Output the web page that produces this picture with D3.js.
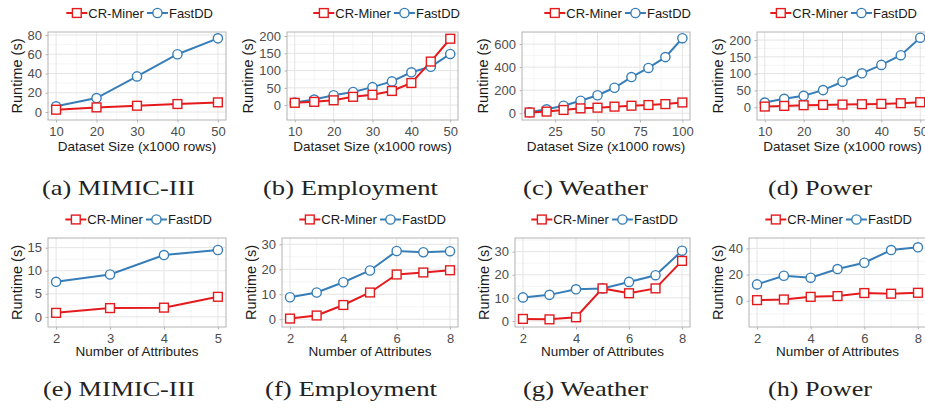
<!DOCTYPE html>
<html>
<head>
<meta charset="utf-8">
<script src="https://cdn.jsdelivr.net/npm/d3@7"></script>
<style>
  body { margin: 0; background: #fff; }
  svg { display: block; }
</style>
</head>
<body>
<svg id="chart" width="925" height="412"></svg>
<script>
// ---- data (runtime in seconds) ----
const seriesNames = ["CR-Miner", "FastDD"];

const mimicSize = [10, 20, 30, 40, 50];
const mimicSizeCR = [2.4, 4.8, 6.5, 8.3, 10];
const mimicSizeFD = [5.9, 14.5, 37, 60, 76.5];

const employSize = [10, 15, 20, 25, 30, 35, 40, 45, 50];
const employSizeCR = [6.7, 9.5, 14, 24, 30, 41, 64, 126, 192];
const employSizeFD = [7.6, 16, 28.6, 38, 52, 68.6, 95, 111, 148];

const weatherSize = [10, 20, 30, 40, 50, 60, 70, 80, 90, 100];
const weatherSizeCR = [6, 14, 28, 42, 48, 57, 65, 71, 79, 93];
const weatherSizeFD = [8, 34, 65, 108, 156, 221, 314, 393, 487, 651];

const powerSize = [10, 15, 20, 25, 30, 35, 40, 45, 50];
const powerSizeCR = [2, 4, 6, 7, 8, 9, 10, 12, 15];
const powerSizeFD = [14, 25, 34, 51, 76, 101, 126, 155, 207];

const mimicAttr = [2, 3, 4, 5];
const mimicAttrCR = [0.87, 1.9, 2.0, 4.35];
const mimicAttrFD = [7.6, 9.2, 13.4, 14.5];

const attrCounts = [2, 3, 4, 5, 6, 7, 8];
const employAttrCR = [0.27, 1.5, 5.7, 10.7, 17.9, 18.7, 19.6];
const employAttrFD = [8.8, 10.7, 14.8, 19.5, 27.3, 26.8, 27.2];
const weatherAttrCR = [0.9, 0.7, 1.6, 14.1, 12, 14.1, 26];
const weatherAttrFD = [10.2, 11.3, 13.7, 14.1, 16.9, 19.8, 30.4];
const powerAttrCR = [0.5, 1, 3, 3.6, 5.9, 5.4, 6.1];
const powerAttrFD = [12.5, 19.1, 17.6, 24.2, 29, 38.7, 40.8];

// ---- tick labels / titles ----
const sizeTicks = [10, 20, 30, 40, 50];
const weatherSizeTicks = [25, 50, 75, 100];
const mimicAttrTicks = [2, 3, 4, 5];
const attrTicks = [2, 4, 6, 8];
const sizeTitle = "Dataset Size (x1000 rows)";
const attrTitle = "Number of Attributes";
const yTitle = "Runtime (s)";

const panels = [
  {id: "a", row: 0, caption: "(a) MIMIC-III", xTitle: sizeTitle, x: mimicSize, cr: mimicSizeCR, fd: mimicSizeFD,
    xTicks: sizeTicks, yTicks: [0, 20, 40, 60, 80], xDomain: [8, 52], yDomain: [-8.3, 83.1]},
  {id: "b", row: 0, caption: "(b) Employment", xTitle: sizeTitle, x: employSize, cr: employSizeCR, fd: employSizeFD,
    xTicks: sizeTicks, yTicks: [0, 50, 100, 150, 200], xDomain: [8, 52], yDomain: [-43, 211.5]},
  {id: "c", row: 0, caption: "(c) Weather", xTitle: sizeTitle, x: weatherSize, cr: weatherSizeCR, fd: weatherSizeFD,
    xTicks: weatherSizeTicks, yTicks: [0, 200, 400, 600], xDomain: [5.5, 104.5], yDomain: [-59, 705]},
  {id: "d", row: 0, caption: "(d) Power", xTitle: sizeTitle, x: powerSize, cr: powerSizeCR, fd: powerSizeFD,
    xTicks: sizeTicks, yTicks: [0, 50, 100, 150, 200], xDomain: [8, 52], yDomain: [-38, 224]},
  {id: "e", row: 1, caption: "(e) MIMIC-III", xTitle: attrTitle, x: mimicAttr, cr: mimicAttrCR, fd: mimicAttrFD,
    xTicks: mimicAttrTicks, yTicks: [0, 5, 10, 15], xDomain: [1.85, 5.15], yDomain: [-2.2, 17.1]},
  {id: "f", row: 1, caption: "(f) Employment", xTitle: attrTitle, x: attrCounts, cr: employAttrCR, fd: employAttrFD,
    xTicks: attrTicks, yTicks: [0, 10, 20, 30], xDomain: [1.7, 8.3], yDomain: [-3.1, 32.5]},
  {id: "g", row: 1, caption: "(g) Weather", xTitle: attrTitle, x: attrCounts, cr: weatherAttrCR, fd: weatherAttrFD,
    xTicks: attrTicks, yTicks: [0, 10, 20, 30], xDomain: [1.7, 8.3], yDomain: [-2.6, 35.9]},
  {id: "h", row: 1, caption: "(h) Power", xTitle: attrTitle, x: attrCounts, cr: powerAttrCR, fd: powerAttrFD,
    xTicks: attrTicks, yTicks: [0, 20, 40], xDomain: [1.7, 8.3], yDomain: [-20, 47.9]}
];

// ---- layout ----
const rows = [
  {top: 32, bottom: 120, legendY: 13, titleY: 151, captionY: 195},
  {top: 238, bottom: 327, legendY: 219.5, titleY: 356, captionY: 396}
];
const layout = {
  a: {left: 48, right: 226, legendRight: 213, captionX: 118.5, captionW: 153},
  b: {left: 287, right: 458, legendRight: 460, captionX: 350.5, captionW: 175},
  c: {left: 522, right: 690, legendRight: 691, captionX: 585.5, captionW: 125},
  d: {left: 757, right: 928, legendRight: 917, captionX: 820, captionW: 104},
  e: {left: 48, right: 226, legendRight: 212, captionX: 119, captionW: 152},
  f: {left: 282, right: 458, legendRight: 446, captionX: 351, captionW: 172},
  g: {left: 515, right: 690, legendRight: 678, captionX: 585.5, captionW: 125},
  h: {left: 749, right: 926, legendRight: 912, captionX: 820, captionW: 104}
};

const colors = {"CR-Miner": "#e41a1c", "FastDD": "#377eb8"};
const sans = "'Liberation Sans', Arial, Helvetica, sans-serif";
const serif = "'Liberation Serif', 'Times New Roman', serif";

const svg = d3.select("#chart");

function minorBreaks(ticks, domain) {
  let out = [];
  let step = ticks[1] - ticks[0];
  let ext = [ticks[0] - step].concat(ticks, [ticks[ticks.length - 1] + step]);
  for (let i = 0; i < ext.length - 1; i++) {
    let m = (ext[i] + ext[i + 1]) / 2;
    if (m > domain[0] && m < domain[1]) out.push(m);
  }
  return out;
}

function drawMarker(sel, name) {
  if (name === "CR-Miner") {
    sel.append("rect")
      .attr("x", -4.4).attr("y", -4.4)
      .attr("width", 8.8).attr("height", 8.8)
      .attr("fill", "#fff")
      .attr("stroke", colors[name])
      .attr("stroke-width", 1.4);
  } else {
    sel.append("circle")
      .attr("r", 4.6)
      .attr("fill", "#fff")
      .attr("stroke", colors[name])
      .attr("stroke-width", 1.4);
  }
}

panels.forEach(function (p) {
  let L = layout[p.id];
  let R = rows[p.row];
  let g = svg.append("g").attr("class", "panel panel-" + p.id);

  let x = d3.scaleLinear().domain(p.xDomain).range([L.left, L.right]);
  let y = d3.scaleLinear().domain(p.yDomain).range([R.bottom, R.top]);

  let clipId = "clip-" + p.id;
  g.append("clipPath").attr("id", clipId)
    .append("rect")
    .attr("x", L.left).attr("y", R.top)
    .attr("width", L.right - L.left).attr("height", R.bottom - R.top);

  // grid
  let grid = g.append("g").attr("clip-path", "url(#" + clipId + ")");
  grid.selectAll(".minor-x").data(minorBreaks(p.xTicks, p.xDomain)).enter().append("line")
    .attr("x1", d => x(d)).attr("x2", d => x(d)).attr("y1", R.top).attr("y2", R.bottom)
    .attr("stroke", "#f1f1f1").attr("stroke-width", 0.7);
  grid.selectAll(".minor-y").data(minorBreaks(p.yTicks, p.yDomain)).enter().append("line")
    .attr("y1", d => y(d)).attr("y2", d => y(d)).attr("x1", L.left).attr("x2", L.right)
    .attr("stroke", "#f1f1f1").attr("stroke-width", 0.7);
  grid.selectAll(".major-x").data(p.xTicks).enter().append("line")
    .attr("x1", d => x(d)).attr("x2", d => x(d)).attr("y1", R.top).attr("y2", R.bottom)
    .attr("stroke", "#e4e4e4").attr("stroke-width", 1);
  grid.selectAll(".major-y").data(p.yTicks).enter().append("line")
    .attr("y1", d => y(d)).attr("y2", d => y(d)).attr("x1", L.left).attr("x2", L.right)
    .attr("stroke", "#e4e4e4").attr("stroke-width", 1);

  // axes
  let xAxis = g.append("g")
    .attr("transform", "translate(0," + R.bottom + ")")
    .call(d3.axisBottom(x).tickValues(p.xTicks).tickSize(2.5).tickPadding(4).tickFormat(d3.format("d")));
  let yAxis = g.append("g")
    .attr("transform", "translate(" + L.left + ",0)")
    .call(d3.axisLeft(y).tickValues(p.yTicks).tickSize(2.5).tickPadding(3.5).tickFormat(d3.format("d")));
  [xAxis, yAxis].forEach(function (ax) {
    ax.select(".domain").remove();
    ax.selectAll(".tick line").attr("stroke", "#b3b3b3");
    ax.selectAll(".tick text")
      .attr("fill", "#4d4d4d")
      .style("font-family", sans)
      .style("font-size", "13px");
  });

  // panel border
  g.append("rect")
    .attr("x", L.left).attr("y", R.top)
    .attr("width", L.right - L.left).attr("height", R.bottom - R.top)
    .attr("fill", "none").attr("stroke", "#b3b3b3").attr("stroke-width", 1);

  // series
  let series = [
    {name: "FastDD", values: p.x.map((v, i) => ({x: v, y: p.fd[i]}))},
    {name: "CR-Miner", values: p.x.map((v, i) => ({x: v, y: p.cr[i]}))}
  ];
  let line = d3.line().x(d => x(d.x)).y(d => y(d.y));
  let plot = g.append("g").attr("clip-path", "url(#" + clipId + ")");
  series.forEach(function (s) {
    plot.append("path")
      .attr("d", line(s.values))
      .attr("fill", "none")
      .attr("stroke", colors[s.name])
      .attr("stroke-width", 2);
  });
  series.forEach(function (s) {
    plot.selectAll(".pt-" + s.name).data(s.values).enter().append("g")
      .attr("transform", d => "translate(" + x(d.x) + "," + y(d.y) + ")")
      .each(function () { drawMarker(d3.select(this), s.name); });
  });

  // axis titles
  g.append("text")
    .attr("x", (L.left + L.right) / 2).attr("y", R.titleY)
    .attr("text-anchor", "middle")
    .style("font-family", sans).style("font-size", "13.5px")
    .attr("fill", "#1a1a1a")
    .text(p.xTitle);
  let yb = yAxis.node().getBBox();
  g.append("text")
    .attr("transform", "translate(" + (L.left + yb.x - 11) + "," + ((R.top + R.bottom) / 2) + ") rotate(-90)")
    .attr("dy", "0.35em")
    .attr("text-anchor", "middle")
    .style("font-family", sans).style("font-size", "14.5px")
    .attr("fill", "#1a1a1a")
    .text(yTitle);

  // legend, right aligned
  let legend = g.append("g");
  let cursor = 0;
  seriesNames.forEach(function (name) {
    let item = legend.append("g").attr("transform", "translate(" + cursor + ",0)");
    item.append("line")
      .attr("x1", 0).attr("x2", 21).attr("y1", 0).attr("y2", 0)
      .attr("stroke", colors[name]).attr("stroke-width", 2);
    drawMarker(item.append("g").attr("transform", "translate(10.5,0)"), name);
    let t = item.append("text")
      .attr("x", 22).attr("dy", "0.36em")
      .style("font-family", sans).style("font-size", "13px")
      .attr("fill", "#1a1a1a")
      .text(name);
    cursor += 22 + t.node().getComputedTextLength() + 3;
  });
  legend.attr("transform", "translate(" + (L.legendRight - cursor + 3) + "," + R.legendY + ")");

  // caption
  svg.append("text")
    .attr("x", L.captionX).attr("y", R.captionY)
    .attr("text-anchor", "middle")
    .attr("textLength", L.captionW)
    .attr("lengthAdjust", "spacingAndGlyphs")
    .style("font-family", serif).style("font-size", "22px")
    .attr("fill", "#222")
    .text(p.caption);
});
</script>
</body>
</html>
